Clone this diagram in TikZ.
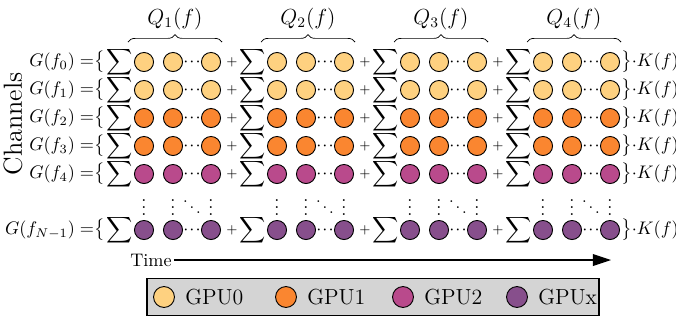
\documentclass[tikz,border=0pt]{standalone}
\usepackage{amsmath,amssymb,amsfonts}
\usepackage{xcolor}
\usepackage{tikz}
\usetikzlibrary{positioning,arrows.meta,decorations.pathreplacing}

\definecolor{gpuzero}{RGB}{254,209,128}
\definecolor{gpuone}{RGB}{250,134,48}
\definecolor{gputwo}{RGB}{185,74,140}
\definecolor{gpux}{RGB}{135,79,140}

\newcommand{\tightdots}{\mathinner{\cdotp\mkern-2mu\cdotp\mkern-2mu\cdotp}}

\begin{document}
\begin{tikzpicture}[x=0.55pt,y=-0.55pt,>={Triangle[length=10pt,width=6.5pt]},
  gpu/.style={circle,draw,fill=#1,minimum size=10.5pt,inner sep=0pt,line width=0.5pt},
  sumsign/.style={inner sep=0.3pt},
  glabel/.style={inner sep=0pt},
  plus/.style={font=\scriptsize,inner sep=0pt},
  qbrace/.style={decorate,decoration={brace,amplitude=4pt}},
  qlabel/.style={midway,above=3pt,font=\large}]

    \useasboundingbox (0,0) rectangle (676,323);

    % The rows
    \foreach \r/\y/\lab/\col in {0/62/f_0/gpuzero,1/90/f_1/gpuzero,2/118/f_2/gpuone,
                                 3/146/f_3/gpuone,4/174/f_4/gputwo,5/230/f_{N-1}/gpux} {
      \foreach \b in {1,...,4} {
        \pgfmathsetmacro\x{144+133*(\b-1)}
        \node [gpu=\col] at (\x,\y) (c\r-\b-1) {};
        \node [gpu=\col] at (\x+29,\y) (c\r-\b-2) {};
        \node [gpu=\col] at (\x+67,\y) (c\r-\b-3) {};
        \node [sumsign,left=0pt of c\r-\b-1] (s\r-\b) {$\displaystyle\sum$};
        \node [glabel] at (\x+48,\y) (d\r-\b) {$\tightdots$};
        \ifnum\b<4
          \node [plus] at (\x+88,\y) (p\r-\b) {$+$};
        \fi
      }
      \node [glabel,left=0.5pt of s\r-1] (g\r) {$G(\lab) =\mskip-5mu\bigl\{$};
      \node [glabel,right=0.5pt of c\r-4-3] (k\r) {$\bigr\}{\cdot}K(f)$};
    }

    % Dots between the rows
    \foreach \b in {1,...,4} {
      \pgfmathsetmacro\x{144+133*(\b-1)}
      \node [glabel] at (\x,202) (v\b-1) {$\vdots$};
      \node [glabel] at (\x+29,202) (v\b-2) {$\vdots$};
      \node [glabel,font=\small] at (\x+48,202) (v\b-d) {$\ddots$};
      \node [glabel] at (\x+67,202) (v\b-3) {$\vdots$};
      \coordinate (qa\b) at (\x-16,42);
      \coordinate (qb\b) at (\x+78,42);
      \draw [qbrace] (qa\b) -- (qb\b) node [qlabel] (q\b) {$Q_{\b}(f)$};
    }

    % Axes
    \node [rotate=90,font=\Large] at (13,124) (chan) {Channels};
    \node [inner sep=1pt] at (151,260) (time) {Time};
    \coordinate (tend) at (611,260);
    \draw [->,line width=0.6pt] (time) -- (tend);

    % Legend
    \node [draw,fill=black!17,line width=0.6pt,minimum width=452*0.55pt,minimum height=37*0.55pt,
           inner sep=0pt] at (373,297) (legend) {};
    \foreach \i/\x/\col/\name in {0/164/gpuzero/GPU0,1/286/gpuone/GPU1,2/403/gputwo/GPU2,3/517/gpux/GPUx} {
      \node [gpu=\col,minimum size=11.5pt] at (\x,297) (l\i) {};
      \node [glabel,font=\large,right=5.5pt of l\i] (lt\i) {\name};
    }
\end{tikzpicture}
\end{document}
